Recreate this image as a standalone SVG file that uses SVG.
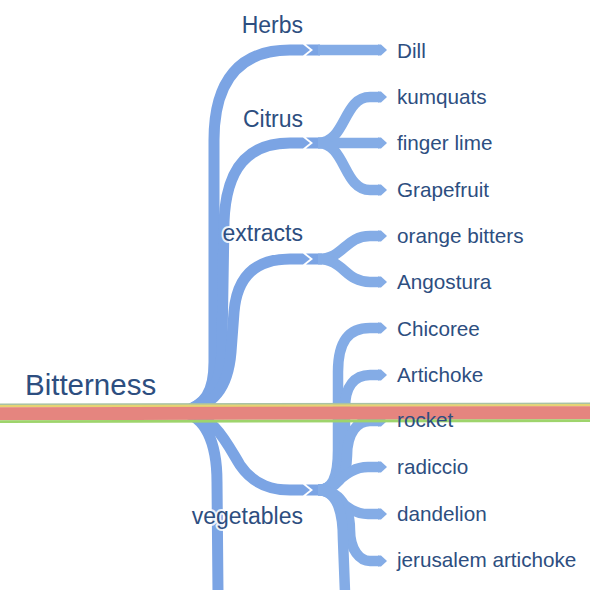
<svg xmlns="http://www.w3.org/2000/svg" width="590" height="590" viewBox="0 0 590 590">
<style>
.br{fill:none;stroke:#7BA4E4;stroke-width:11;stroke-linecap:butt}
.ch{fill:none;stroke:#84ACE6;stroke-width:10.5;stroke-linecap:butt}
.fk{fill:#7BA4E4}
.t{font-family:"Liberation Sans",Arial,sans-serif;fill:#2D4E80}
.root{font-size:29.5px}
.mid{font-size:23px;text-anchor:end;stroke:#fff;stroke-width:4;stroke-linejoin:round;paint-order:stroke;stroke-opacity:0.85}
.leaf{font-size:20.7px}
</style>
<defs>
<marker id="tip" markerUnits="userSpaceOnUse" markerWidth="12" markerHeight="14" viewBox="0 -7 12 14" refX="1" refY="0" orient="auto" overflow="visible">
<path d="M0,-5.5 L3,-5.5 L9,0 L3,5.5 L0,5.5 Z" fill="#84ACE6"/>
</marker>
<marker id="chev" markerUnits="userSpaceOnUse" markerWidth="10" markerHeight="14" viewBox="0 -7 10 14" refX="0" refY="0" orient="auto" overflow="visible">
<path d="M0,-5.5 L0,5.5 L7,0 Z" fill="#7BA4E4"/>
</marker>
</defs>
<g id="connectors">
<path class="br" marker-end="url(#chev)" d="M182,412 C205,406 214,392 214,362 L214,140 C214,80 240,50 290,50 L303,50"/>
<path class="br" marker-end="url(#chev)" d="M182,412 C210,405 222,382 222,345 L224,222 C226,168 248,143 290,143 L303,143"/>
<path class="br" marker-end="url(#chev)" d="M182,412 C214,406 228,388 231,352 L234,312 C237,276 256,259 290,259 L303,259"/>
<path class="br" marker-end="url(#chev)" d="M184,412 C214,415 226,442 240,465 C255,487 275,490 290,490 L303,490"/>
<path class="br" d="M182,412 C205,416 217,442 217,482 L218,592"/>
<polygon class="fk" points="306,44.5 320,44.5 320,55.5 306,55.5 313,50"/>
<polygon class="fk" points="306,137.5 322,137.5 322,148.5 306,148.5 313,143"/>
<polygon class="fk" points="306,253.5 322,253.5 322,264.5 306,264.5 313,259"/>
<polygon class="fk" points="306,484.5 322,484.5 322,495.5 306,495.5 313,490"/>
<path class="ch" marker-end="url(#tip)" d="M318,50 L379,50"/>
<path class="ch" marker-end="url(#tip)" d="M318,143 C346,143 343,97 370,97 L379,97"/>
<path class="ch" marker-end="url(#tip)" d="M318,143 L379,143"/>
<path class="ch" marker-end="url(#tip)" d="M318,143 C346,143 343,190 370,190 L379,190"/>
<path class="ch" marker-end="url(#tip)" d="M318,259 C344,259 345,236 370,236 L379,236"/>
<path class="ch" marker-end="url(#tip)" d="M318,259 C344,259 345,282 370,282 L379,282"/>
<path class="ch" marker-end="url(#tip)" d="M318,490 C332,490 338,478 338,450 L338,372 C338,342 348,328 370,328 L379,328"/>
<path class="ch" marker-end="url(#tip)" d="M318,490 C336,490 345,470 345,440 L345,408 C345,386 355,375 370,375 L379,375"/>
<path class="ch" marker-end="url(#tip)" d="M318,490 C336,490 347,476 347,456 C347,432 358,421 370,421 L379,421"/>
<path class="ch" marker-end="url(#tip)" d="M318,490 C336,490 344,467 368,467 L379,467"/>
<path class="ch" marker-end="url(#tip)" d="M318,490 C336,490 344,514 368,514 L379,514"/>
<path class="ch" marker-end="url(#tip)" d="M318,490 C340,490 350,508 350,530 C350,550 360,561 370,561 L379,561"/>
<path class="ch" d="M318,490 C336,490 343,510 343,540 L345,592"/>
</g>
<g id="band">
<polygon points="0,403.5 590,402.5 590,404.5 0,405.5" fill="#A9C2A4"/>
<polygon points="0,405 590,404 590,406.5 0,407.5" fill="#E6D372"/>
<polygon points="0,407.2 590,406.2 590,419.3 0,420.3" fill="#E5857F"/>
<polygon points="0,420.2 590,419.2 590,422 0,423" fill="#9ED46C"/>
</g>
<g id="node-root"><text class="t root" x="25" y="395">Bitterness</text></g>
<g id="node-herbs"><text class="t mid" x="303" y="33">Herbs</text></g>
<g id="node-citrus"><text class="t mid" x="303" y="127">Citrus</text></g>
<g id="node-extracts"><text class="t mid" x="303" y="241">extracts</text></g>
<g id="node-vegetables"><text class="t mid" x="303" y="524">vegetables</text></g>
<g id="node-dill"><text class="t leaf" x="397" y="58">Dill</text></g>
<g id="node-kumquats"><text class="t leaf" x="397" y="104">kumquats</text></g>
<g id="node-fingerlime"><text class="t leaf" x="397" y="150">finger lime</text></g>
<g id="node-grapefruit"><text class="t leaf" x="397" y="197">Grapefruit</text></g>
<g id="node-orangebitters"><text class="t leaf" x="397" y="243">orange bitters</text></g>
<g id="node-angostura"><text class="t leaf" x="397" y="289">Angostura</text></g>
<g id="node-chicoree"><text class="t leaf" x="397" y="336">Chicoree</text></g>
<g id="node-artichoke"><text class="t leaf" x="397" y="382">Artichoke</text></g>
<g id="node-rocket"><text class="t leaf" x="397" y="427">rocket</text></g>
<g id="node-radiccio"><text class="t leaf" x="397" y="474">radiccio</text></g>
<g id="node-dandelion"><text class="t leaf" x="397" y="521">dandelion</text></g>
<g id="node-jerusalem"><text class="t leaf" x="397" y="567">jerusalem artichoke</text></g>
</svg>
